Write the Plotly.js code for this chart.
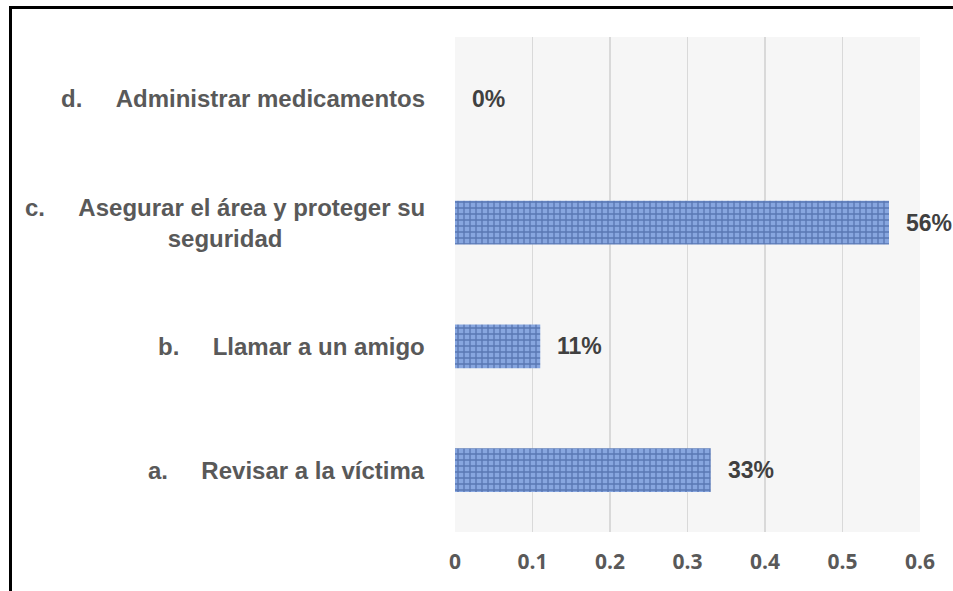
<!DOCTYPE html>
<html>
<head>
<meta charset="utf-8">
<script src="https://cdn.plot.ly/plotly-3.0.1.min.js"></script>
<style>
  html, body { margin: 0; padding: 0; background: #ffffff; overflow: hidden; }
  #chart { position: absolute; left: 0; top: 0; width: 953px; height: 591px; }
  #frame { position: absolute; left: 9px; top: 6px; width: 1000px; height: 700px;
           border: 3px solid #000; pointer-events: none; }
</style>
</head>
<body>
<div id="chart"></div>
<div id="frame"></div>
<script>
// ---- data ----
const categoryKeys = ["a", "b", "c", "d"];
const categoryLetters = ["a.", "b.", "c.", "d."];
const categoryTexts = [
  "Revisar a la víctima",
  "Llamar a un amigo",
  "Asegurar el área y proteger su<br>seguridad",
  "Administrar medicamentos"
];
const values = [0.33, 0.11, 0.56, 0.00];
const xTickVals = [0, 0.1, 0.2, 0.3, 0.4, 0.5, 0.6];
const xTickText = ["0", "0.1", "0.2", "0.3", "0.4", "0.5", "0.6"];

const GAP = "\u00a0\u00a0\u00a0\u00a0\u00a0";

const trace = {
  type: "bar",
  orientation: "h",
  x: values,
  y: categoryKeys,
  marker: {
    color: "#7f9fdb",
    line: { width: 0 },
    pattern: {
      shape: "+",
      bgcolor: "#87a6df",
      fgcolor: "#2a4887",
      size: 6,
      solidity: 0.4,
      fillmode: "overlay"
    }
  },
  hoverinfo: "skip"
};

const annotations = [];
// category labels (left side)
categoryKeys.forEach((k, i) => {
  const parts = categoryTexts[i].split("<br>");
  let txt = categoryLetters[i] + GAP + parts[0];
  if (parts.length > 1) txt += "<br>" + parts.slice(1).join("<br>");
  annotations.push({
    xref: "paper", yref: "y",
    x: 0, y: k,
    xanchor: "right", yanchor: "middle",
    xshift: -28,
    align: "center",
    showarrow: false,
    text: txt,
    font: { family: "'Liberation Sans', Arial, sans-serif", size: 24, color: "#595959", weight: "bold" }
  });
});
// value labels
categoryKeys.forEach((k, i) => {
  annotations.push({
    xref: "x", yref: "y",
    x: values[i], y: k,
    xanchor: "left", yanchor: "middle",
    xshift: 15,
    showarrow: false,
    text: Math.round(values[i] * 100) + "%",
    font: { family: "'Liberation Sans', Arial, sans-serif", size: 23, color: "#404040", weight: "bold" }
  });
});

const layout = {
  width: 953,
  height: 591,
  margin: { l: 455, r: 33, t: 37, b: 59 },
  paper_bgcolor: "#ffffff",
  plot_bgcolor: "#f6f6f6",
  showlegend: false,
  bargap: 0.648,
  xaxis: {
    range: [0, 0.6],
    tickvals: xTickVals,
    ticktext: xTickText,
    showgrid: true,
    gridcolor: "#d9d9d9",
    gridwidth: 1.5,
    zeroline: false,
    showline: false,
    ticks: "",
    ticklabelstandoff: 15,
    tickfont: { family: "'Open Sans', sans-serif", size: 21, color: "#595959", weight: "bold" },
    fixedrange: true
  },
  yaxis: {
    showticklabels: false,
    showgrid: false,
    zeroline: false,
    showline: false,
    ticks: "",
    fixedrange: true
  },
  annotations: annotations
};

Plotly.newPlot("chart", [trace], layout, { displayModeBar: false, staticPlot: true });
</script>
</body>
</html>
